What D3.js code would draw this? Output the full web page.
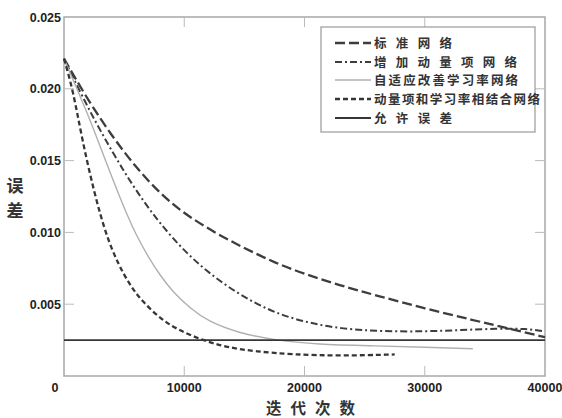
<!DOCTYPE html>
<html>
<head>
<meta charset="utf-8">
<script src="https://cdn.jsdelivr.net/npm/d3@7"></script>
<style>
	body { margin: 0; background: #fff; }
	text { font-family: 'Liberation Sans Narrow', 'Liberation Sans', Arial, sans-serif; }
	.cjk { font-family: 'Noto Sans CJK SC', sans-serif; }
</style>
</head>
<body>
<svg id="chart"></svg>
<script>
const WIDTH = 562;
const HEIGHT = 418;

// iteration counts and error values
const standardIter = [0, 2000, 4000, 6000, 8000, 10000, 12500, 15000, 17500, 20000, 23000, 26000, 30000, 34000, 37000, 40000];
const standardErr = [0.0221, 0.0192, 0.0167, 0.0145, 0.0127, 0.0113, 0.0100, 0.0089, 0.0079, 0.0071, 0.0063, 0.0056, 0.0047, 0.0039, 0.0033, 0.0027];

const momentumIter = [0, 1500, 3000, 5000, 6500, 8000, 10000, 12000, 14500, 17000, 19000, 21000, 23000, 26500, 30000, 33000, 36000, 38500, 40000];
const momentumErr = [0.0221, 0.0195, 0.0171, 0.0142, 0.0123, 0.0106, 0.0087, 0.0072, 0.0057, 0.0046, 0.0040, 0.0036, 0.0033, 0.0031, 0.0031, 0.0032, 0.0033, 0.0033, 0.0031];

const adaptiveIter = [0, 2000, 3000, 4000, 5000, 6000, 7000, 8000, 9000, 10500, 12000, 14500, 17500, 21000, 26000, 30000, 34000];
const adaptiveErr = [0.0221, 0.0182, 0.0160, 0.0138, 0.0117, 0.0098, 0.0083, 0.0070, 0.0059, 0.0047, 0.0038, 0.0030, 0.0025, 0.0022, 0.0021, 0.0020, 0.0019];

const combinedIter = [0, 750, 1500, 2500, 3500, 4500, 5500, 6500, 8000, 9500, 11500, 13500, 16000, 19000, 23000, 27500];
const combinedErr = [0.0221, 0.0199, 0.0165, 0.0128, 0.0098, 0.0078, 0.0063, 0.0052, 0.0040, 0.0032, 0.0025, 0.0020, 0.0017, 0.0015, 0.0014, 0.0015];

const allowedErr = 0.0025;

const xTicks = [10000, 20000, 30000, 40000];
const yTicks = [0.005, 0.010, 0.015, 0.020, 0.025];

const legendNames = ['标 准 网 络', '增 加 动 量 项 网 络', '自适应改善学习率网络', '动量项和学习率相结合网络', '允 许 误 差'];

const svg = d3.select('#chart')
	.attr('width', WIDTH)
	.attr('height', HEIGHT);

const x = d3.scaleLinear().domain([0, 40000]).range([64, 545]);
const y = d3.scaleLinear().domain([0, 0.025]).range([376, 17]);

const styles = [
	{color: '#3d3d3d', width: 2.3, dash: '10,4'},
	{color: '#3d3d3d', width: 2, dash: '7,3,2,3'},
	{color: '#b0b0b0', width: 1.4, dash: null},
	{color: '#363636', width: 2.3, dash: '5,3'},
	{color: '#363636', width: 1.8, dash: null}
];

// frame
svg.append('rect')
	.attr('x', x(0))
	.attr('y', y(0.025))
	.attr('width', x(40000) - x(0))
	.attr('height', y(0) - y(0.025))
	.attr('fill', 'none')
	.attr('stroke', '#a8a8a8')
	.attr('stroke-width', 1.5);

// inward ticks on all four sides
const tickLen = 10;
svg.append('g').selectAll('line')
	.data(xTicks.slice(0, 3))
	.enter()
	.append('line')
	.attr('x1', d => x(d)).attr('x2', d => x(d))
	.attr('y1', y(0)).attr('y2', y(0) - tickLen)
	.attr('stroke', '#bbb');
svg.append('g').selectAll('line')
	.data(xTicks.slice(0, 3))
	.enter()
	.append('line')
	.attr('x1', d => x(d)).attr('x2', d => x(d))
	.attr('y1', y(0.025)).attr('y2', y(0.025) + tickLen)
	.attr('stroke', '#bbb');
svg.append('g').selectAll('line')
	.data(yTicks.slice(0, 4))
	.enter()
	.append('line')
	.attr('x1', x(0)).attr('x2', x(0) + tickLen)
	.attr('y1', d => y(d)).attr('y2', d => y(d))
	.attr('stroke', '#bbb');
svg.append('g').selectAll('line')
	.data(yTicks.slice(0, 4))
	.enter()
	.append('line')
	.attr('x1', x(40000)).attr('x2', x(40000) - tickLen)
	.attr('y1', d => y(d)).attr('y2', d => y(d))
	.attr('stroke', '#bbb');

// tick labels
svg.append('g').selectAll('text')
	.data(xTicks)
	.enter()
	.append('text')
	.attr('x', d => x(d))
	.attr('y', 392)
	.attr('text-anchor', 'middle')
	.attr('font-size', 12.5)
	.attr('font-weight', 'bold')
	.attr('fill', '#222')
	.text(d => d);
svg.append('g').selectAll('text')
	.data(yTicks)
	.enter()
	.append('text')
	.attr('x', 61)
	.attr('y', d => y(d) + 4.5)
	.attr('text-anchor', 'end')
	.attr('font-size', 12.5)
	.attr('font-weight', 'bold')
	.attr('fill', '#222')
	.text(d => d.toFixed(3));
svg.append('text')
	.attr('x', 55)
	.attr('y', 392)
	.attr('text-anchor', 'middle')
	.attr('font-size', 12.5)
	.attr('font-weight', 'bold')
	.attr('fill', '#222')
	.text('0');

// axis titles
svg.append('text')
	.attr('class', 'cjk')
	.attr('x', 315)
	.attr('y', 414)
	.attr('text-anchor', 'middle')
	.attr('font-size', 15.5)
	.attr('font-weight', 'bold')
	.attr('fill', '#333')
	.attr('letter-spacing', 9)
	.text('迭代次数');
svg.append('g').selectAll('text')
	.data(['误', '差'])
	.enter()
	.append('text')
	.attr('class', 'cjk')
	.attr('x', 15)
	.attr('y', (d, i) => 192 + i * 25)
	.attr('text-anchor', 'middle')
	.attr('font-size', 17)
	.attr('font-weight', 'bold')
	.attr('fill', '#333')
	.text(d => d);

// curves
const line = d3.line()
	.x(d => x(d[0]))
	.y(d => y(d[1]))
	.curve(d3.curveBasis);

const series = [
	d3.zip(standardIter, standardErr),
	d3.zip(momentumIter, momentumErr),
	d3.zip(adaptiveIter, adaptiveErr),
	d3.zip(combinedIter, combinedErr),
	[[0, allowedErr], [40000, allowedErr]]
];

svg.append('g').selectAll('path')
	.data(series)
	.enter()
	.append('path')
	.attr('d', line)
	.attr('fill', 'none')
	.attr('stroke', (d, i) => styles[i].color)
	.attr('stroke-width', (d, i) => styles[i].width)
	.attr('stroke-dasharray', (d, i) => styles[i].dash);

// legend
const legend = svg.append('g');
legend.append('rect')
	.attr('x', 321)
	.attr('y', 27)
	.attr('width', 214)
	.attr('height', 105)
	.attr('fill', '#fff')
	.attr('stroke', '#999')
	.attr('stroke-width', 1.2);

const rowY = [43, 62, 80, 99, 118];
const textLen = [78, 143, 144, 166, 78];

legend.selectAll('line')
	.data(legendNames)
	.enter()
	.append('line')
	.attr('x1', 335)
	.attr('x2', 371)
	.attr('y1', (d, i) => rowY[i])
	.attr('y2', (d, i) => rowY[i])
	.attr('stroke', (d, i) => styles[i].color)
	.attr('stroke-width', (d, i) => styles[i].width)
	.attr('stroke-dasharray', (d, i) => styles[i].dash);

legend.selectAll('text')
	.data(legendNames)
	.enter()
	.append('text')
	.attr('class', 'cjk')
	.attr('x', 374)
	.attr('y', (d, i) => rowY[i] + 4.5)
	.attr('font-size', 12.5)
	.attr('font-weight', 'bold')
	.attr('fill', '#333')
	.attr('textLength', (d, i) => textLen[i])
	.attr('lengthAdjust', 'spacing')
	.text(d => d);
</script>
</body>
</html>
